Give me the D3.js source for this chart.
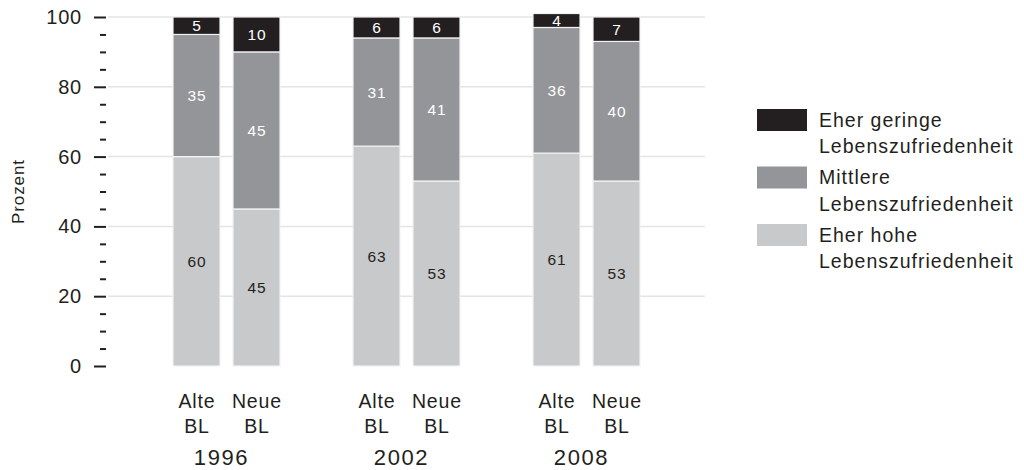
<!DOCTYPE html>
<html>
<head>
<meta charset="utf-8">
<script src="https://cdn.jsdelivr.net/npm/d3@7"></script>
<style>
  html, body { margin: 0; padding: 0; background: #fff; }
  svg { display: block; font-family: "Liberation Sans", Arial, sans-serif; }
</style>
</head>
<body>
<svg id="chart" width="1024" height="470"></svg>
<script>
// Survey years and regions (alte / neue Bundesländer)
const years = ["1996", "2002", "2008"];
const regions = ["Alte BL", "Neue BL"];

// Shares in percent, one entry per year × region (Alte, Neue)
const hoch   = [60, 45, 63, 53, 61, 53];
const mittel = [35, 45, 31, 41, 36, 40];
const gering = [5, 10, 6, 6, 4, 7];

const seriesNames = [
  "Eher hohe Lebenszufriedenheit",
  "Mittlere Lebenszufriedenheit",
  "Eher geringe Lebenszufriedenheit"
];
const yTicksMajor = [0, 20, 40, 60, 80, 100];
const yTicksMinor = [5, 10, 15, 25, 30, 35, 45, 50, 55, 65, 70, 75, 85, 90, 95];

const colors = ["#c8c9cb", "#939598", "#231f20"];
const labelColors = ["#231f20", "#ffffff", "#ffffff"];
const ink = "#231f20";

// Flat table for stacking
const rows = [];
years.forEach((yr, i) => {
  regions.forEach((rg, j) => {
    const k = i * regions.length + j;
    rows.push({ year: yr, region: rg, s0: hoch[k], s1: mittel[k], s2: gering[k] });
  });
});
const stack = d3.stack().keys(["s0", "s1", "s2"])(rows);

const svg = d3.select("#chart");

const y = d3.scaleLinear().domain([0, 100]).range([366, 17]);
const x0 = d3.scaleBand().domain(years).range([136.5, 676.5]).padding(0);
const x1 = d3.scaleBand().domain(regions).range([36.5, 143.5]).paddingInner(0.2167).paddingOuter(0);

// Grid lines
svg.append("g")
  .selectAll("line")
  .data(yTicksMajor.filter(d => d > 0))
  .join("line")
  .attr("x1", 108).attr("x2", 705)
  .attr("y1", d => y(d)).attr("y2", d => y(d))
  .attr("stroke", "#e4e4e4")
  .attr("stroke-width", 1.5);

// Y axis: major ticks with labels, minor ticks without
const axisMajor = d3.axisLeft(y).tickValues(yTicksMajor).tickSize(12).tickPadding(12);
const gMaj = svg.append("g").attr("transform", "translate(106,0)").call(axisMajor);
gMaj.select(".domain").remove();
gMaj.selectAll(".tick line").attr("stroke", ink).attr("stroke-width", 2);
gMaj.selectAll(".tick text")
  .attr("fill", ink)
  .style("font-size", "20px")
  .style("letter-spacing", "0.8px")
  .style("font-family", "'Liberation Sans', Arial, sans-serif");

const axisMinor = d3.axisLeft(y).tickValues(yTicksMinor).tickSize(6).tickFormat("");
const gMin = svg.append("g").attr("transform", "translate(106,0)").call(axisMinor);
gMin.select(".domain").remove();
gMin.selectAll(".tick line").attr("stroke", ink).attr("stroke-width", 2);

// Y axis title
svg.append("text")
  .attr("transform", `translate(24,${y(50)}) rotate(-90)`)
  .attr("text-anchor", "middle")
  .attr("fill", ink)
  .style("font-size", "17px")
  .style("letter-spacing", "0.9px")
  .text("Prozent");

// Stacked bars
const layers = svg.append("g")
  .selectAll("g")
  .data(stack)
  .join("g")
  .attr("fill", (d, i) => colors[i]);

layers.selectAll("rect")
  .data(d => d)
  .join("rect")
  .attr("x", d => x0(d.data.year) + x1(d.data.region))
  .attr("width", x1.bandwidth())
  .attr("y", d => y(d[1]))
  .attr("height", d => y(d[0]) - y(d[1]))
  .attr("stroke", "#f2f2f2")
  .attr("stroke-width", 1.2);

// Value labels inside segments
stack.forEach((layer, i) => {
  svg.append("g")
    .selectAll("text")
    .data(layer)
    .join("text")
    .attr("x", d => x0(d.data.year) + x1(d.data.region) + x1.bandwidth() / 2 + 0.5)
    .attr("y", d => (y(d[0]) + y(d[1])) / 2)
    .attr("dy", "0.36em")
    .attr("text-anchor", "middle")
    .attr("fill", labelColors[i])
    .style("font-size", "15.5px")
    .style("letter-spacing", "0.9px")
    .text(d => d[1] - d[0]);
});

// Category labels (two lines) and year labels
const catG = svg.append("g").attr("fill", ink);
years.forEach(yr => {
  regions.forEach(rg => {
    const cx = x0(yr) + x1(rg) + x1.bandwidth() / 2;
    const parts = rg.split(" ");
    const t = catG.append("text")
      .attr("text-anchor", "middle")
      .style("font-size", "19.5px")
      .style("letter-spacing", "0.9px");
    parts.forEach((p, k) => {
      t.append("tspan").attr("x", cx + 0.5).attr("y", 408 + k * 24.5).text(p);
    });
  });
  catG.append("text")
    .attr("x", x0(yr) + x0.bandwidth() / 2 - 5)
    .attr("y", 465)
    .attr("text-anchor", "middle")
    .style("font-size", "22px")
    .style("letter-spacing", "1.6px")
    .text(yr);
});

// Legend (top entry = top of stack)
const legendOrder = [2, 1, 0];
const lg = svg.append("g");
legendOrder.forEach((si, k) => {
  const top = 109 + k * 57.5;
  lg.append("rect")
    .attr("x", 757).attr("y", top)
    .attr("width", 50).attr("height", 22)
    .attr("fill", colors[si]);
  const name = seriesNames[si];
  const cut = name.lastIndexOf(" ");
  const lines = [name.slice(0, cut), name.slice(cut + 1)];
  const t = lg.append("text")
    .attr("fill", ink)
    .style("font-size", "19.5px")
    .style("letter-spacing", "1px");
  lines.forEach((ln, j) => {
    t.append("tspan").attr("x", 819).attr("y", top + 17.5 + j * 26.5).text(ln);
  });
});
</script>
</body>
</html>
